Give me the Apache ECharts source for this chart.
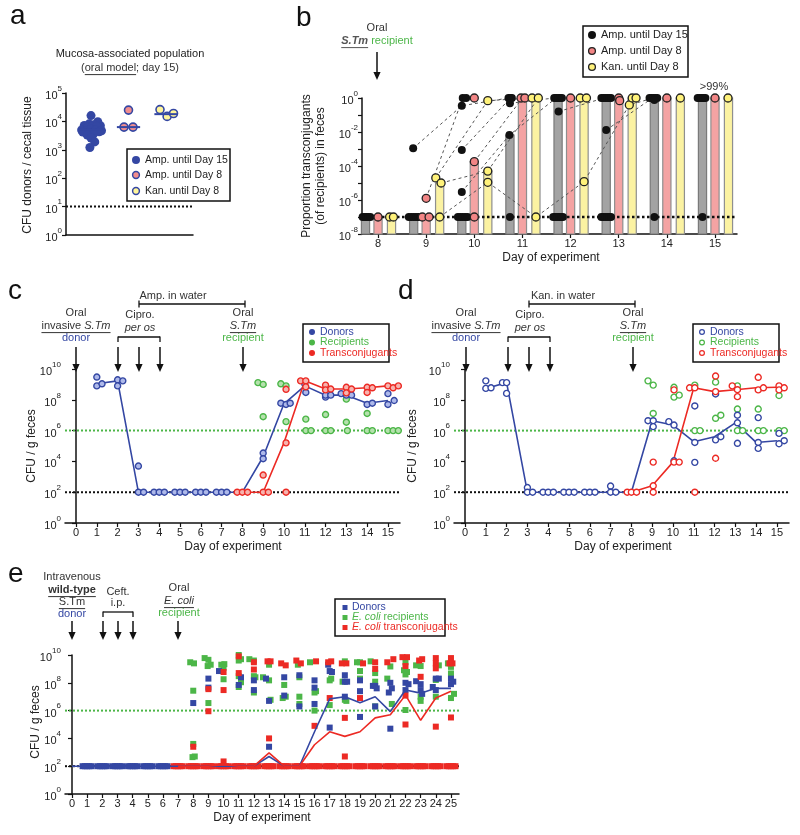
<!DOCTYPE html>
<html>
<head>
<meta charset="utf-8">
<script src="https://cdn.jsdelivr.net/npm/echarts@6.0.0/dist/echarts.min.js"></script>
<style>
html,body{margin:0;padding:0;background:#ffffff;}
#chart{width:800px;height:835px;}
</style>
</head>
<body>
<div id="chart"></div>
<script>
const FONT = '"Liberation Sans", Arial, Helvetica, sans-serif';

/* ======================= DATA ======================= */
// ---- Panel a : mucosa-associated donors (CFU / cecal tissue); x = group (1,2,3) incl. jitter
const aLegend = ['Amp. until Day 15', 'Amp. until Day 8', 'Kan. until Day 8'];
const aAmp15 = [[1.00,16000],[1.18,9800],[0.95,8200],[0.82,7200],[1.08,7600],[1.25,7000],[0.90,6000],[1.02,6300],[1.15,6600],[0.75,5000],[0.87,4800],[1.00,5300],[1.12,5000],[1.28,4700],[0.78,4200],[0.95,4000],[1.22,4300],[1.06,3500],[0.90,3300],[1.00,2600],[1.10,1900],[0.97,1200]];
const aAmp8 = [[2.00,25000],[1.88,6300],[2.12,6300]];
const aKan8 = [[2.84,26000],[3.03,15000],[3.20,19000]];
const aGroupPos = [1, 2, 3];
const aMedian = [5000, 6300, 18000];
const aDetection = 10;

// ---- Panel b : proportion transconjugants (of recipients)
const bDays = [8, 9, 10, 11, 12, 13, 14, 15];
const bMedAmp15 = [1e-7, 1e-7, 1e-7, 6.6e-3, 1, 1, 1, 1];
const bMedAmp8  = [1e-7, 1e-7, 1.8e-4, 1, 1, 1, 1, 1];
const bMedKan8  = [1e-7, 1e-5, 5e-5, 1, 1, 1, 1, 1];
const bAmp15 = [[7.68,1e-7],[7.72,1e-7],[7.76,1e-7],[7.80,1e-7],[7.84,1e-7],
  [8.64,1e-7],[8.69,1e-7],[8.74,1e-7],[8.79,1e-7],[8.84,1e-7],[8.89,1e-7],[8.73,1.1e-3],
  [9.76,1],[9.83,1],[9.74,0.35],[9.74,8.7e-4],[9.74,3e-6],[9.66,1e-7],[9.71,1e-7],[9.76,1e-7],[9.81,1e-7],[9.86,1e-7],
  [10.71,1],[10.75,1],[10.78,1],[10.74,0.49],[10.73,6.6e-3],[10.74,1e-7],
  [11.66,1],[11.70,1],[11.74,1],[11.78,1],[11.82,1],[11.75,0.16],[11.64,1e-7],[11.68,1e-7],[11.72,1e-7],[11.76,1e-7],[11.80,1e-7],[11.84,1e-7],
  [12.64,1],[12.68,1],[12.72,1],[12.76,1],[12.80,1],[12.84,1],[12.74,1.3e-2],[12.64,1e-7],[12.68,1e-7],[12.72,1e-7],[12.76,1e-7],[12.80,1e-7],[12.84,1e-7],
  [13.64,1],[13.68,1],[13.72,1],[13.76,1],[13.80,1],[13.74,0.76],[13.74,1e-7],
  [14.64,1],[14.68,1],[14.72,1],[14.76,1],[14.80,1],[14.74,1e-7]];
const bAmp8 = [[8,1e-7],[9,1.26e-6],[8.92,1e-7],[9.06,1e-7],[10,1],[10,1.8e-4],[10,1e-7],[10.97,1],[11.05,1],[12,1],[13,1],[13.02,0.7],[14,1],[15,1]];
const bKan8 = [[8.24,1e-7],[8.32,1e-7],[9.20,2e-5],[9.31,1e-5],[9.28,1e-7],[10.28,0.7],[10.28,5e-5],[10.28,1.1e-5],[11.20,1],[11.33,1],[11.28,1e-7],[12.20,1],[12.33,1],[12.28,1.2e-5],[13.22,0.39],[13.28,1],[13.36,1],[14.28,1],[15.27,1]];
const bTracks = [
  [[8.73,1.1e-3],[9.74,0.35],[10.71,1]],
  [[9.0,1.26e-6],[9.76,1]],
  [[9.20,2e-5],[10.28,0.7],[11.20,1]],
  [[9.31,1e-5],[10.28,5e-5],[11.33,1]],
  [[9.28,1e-7],[10.28,1.1e-5],[11.28,1e-7],[12.28,1.2e-5],[13.22,0.39],[13.72,1]],
  [[9.74,8.7e-4],[10.75,1]],
  [[9.74,3e-6],[10.73,6.6e-3],[11.70,1]],
  [[10.0,1.8e-4],[11.0,1]],
  [[10.74,0.49],[11.66,1]],
  [[11.75,0.16],[12.70,1]],
  [[12.74,1.3e-2],[13.70,1]]
];
const bDetection = 1e-7;

// ---- Panel c : Amp. in water (CFU / g feces)
const cDonors = [[1,3e9],[1,8e8],[1.25,1.1e9],[2,2e9],[2,8e8],[2.25,1.7e9],[3,5e3],[3,100],[3.25,100],[3.75,100],[4,100],[4.25,100],[4.75,100],[5,100],[5.25,100],[5.75,100],[6,100],[6.25,100],[6.75,100],[7,100],[7.25,100],
  [9,3.5e4],[9,1.5e4],[9.85,6e7],[10.1,5e7],[10.3,6e7],[11,1.1e9],[11.05,3e8],[12,1.5e8],[12,2e8],[12.25,2e8],[12.75,2.5e8],[13,2e8],[13.25,2e8],[14,5e7],[14.25,6e7],[15,2.5e8],[15,5e7],[15.3,9e7]];
const cRecipients = [[8.75,1.3e9],[9,1e9],[9,8e6],[9.85,1.1e9],[10.1,8e8],[10.1,3.8e6],[11.05,5.6e6],[11.05,1e6],[11.3,1e6],[12,1.1e7],[12,1e6],[12.25,1e6],[13,1.1e8],[13,3.5e6],[13.05,1e6],[14,1.3e7],[14,1e6],[14.25,1e6],[15,1e6],[15.25,1e6],[15.5,1e6]];
const cTrans = [[7.75,100],[8,100],[8.25,100],[9,1.3e3],[9,100],[9.25,100],[10.1,4.8e8],[10.1,1.6e5],[10.1,100],[10.8,1.7e9],[11.05,1.7e9],[11.05,7e8],[12,9e8],[12,4.4e8],[12.25,5e8],[13,6.5e8],[13,2.8e8],[13.25,5e8],[14,6.5e8],[14,3e8],[14.25,6e8],[15,8e8],[15.25,6e8],[15.5,8e8]];
const cDonorMed = [[1,1.1e9],[2,1.7e9],[3,100],[4,100],[5,100],[6,100],[7,100],[8,100],[9,2e4],[10,5.5e7],[11,8e8],[12,2e8],[13,2e8],[14,6e7],[15,9e7]];
const cTransMed = [[8,100],[9,100],[10,1.6e5],[11,1.7e9],[12,5e8],[13,5e8],[14,6e8],[15,8e8]];

// ---- Panel d : Kan. in water (CFU / g feces)
const dDonors = [[1,1.7e9],[1,5.5e8],[1.25,6e8],[1.8,1.3e9],[2,1.3e9],[2,2.6e8],[3,200],[3,100],[3.25,100],[3.75,100],[4,100],[4.25,100],[4.75,100],[5,100],[5.25,100],[5.75,100],[6,100],[6.25,100],[7,250],[7,100],[7.25,100],
  [8.8,4.4e6],[9.05,4.4e6],[9.05,1.8e6],[9.8,3.8e6],[10.05,2.3e6],[10.05,1.1e4],[11.05,4e7],[11.05,1.7e5],[11.05,8.7e3],[12.05,2.4e8],[12.05,2.5e5],[12.3,4e5],[13.1,1e7],[13.1,3.2e6],[13.1,1.5e5],[14.1,7e6],[14.1,1.7e5],[14.1,7e4],[15.1,6.6e5],[15.1,1.4e5],[15.35,2.2e5]];
const dRecipients = [[8.8,1.7e9],[9.05,9e8],[9.05,1.3e7],[10.05,6.5e8],[10.05,1.5e8],[10.3,2e8],[11.05,9e8],[11.05,1e6],[11.3,1e6],[12.05,1.4e9],[12.05,6.3e6],[12.3,1e7],[13.1,8e8],[13.1,2.5e7],[13.1,1e6],[13.35,1e6],[14.1,2.5e7],[14.1,1e6],[14.35,1e6],[15.1,1.9e8],[15.1,1e6],[15.35,1e6]];
const dTrans = [[7.8,100],[8,100],[8.25,100],[9.05,9e3],[9.05,260],[9.05,100],[10.05,4.4e8],[10.05,9e3],[10.3,9e3],[10.8,6e8],[11.05,6e8],[11.05,100],[12.05,3.5e9],[12.05,3.4e8],[12.05,1.6e4],[12.85,8e8],[13.1,4.5e8],[13.1,1.6e8],[14.1,2.9e9],[14.1,4.4e8],[14.35,6e8],[15.1,8e8],[15.1,4.4e8],[15.35,6e8]];
const dDonorMed = [[1,5.5e8],[2,1.3e9],[3,100],[4,100],[5,100],[6,100],[7,100],[8,100],[9,4.4e6],[10,2.3e6],[11,1.9e5],[12,4e5],[13,3.2e6],[14,1.7e5],[15,2.2e5]];
const dTransMed = [[8,100],[9,260],[10,9e3],[11,6e8],[12,3.4e8],[13,4.5e8],[14,6e8],[15,6.5e8]];

// ---- Panel e : intravenous model, E. coli recipient (CFU / g feces)
const eDonors = [[8,3.5e6],[9,2e8],[9,4.5e7],[9.7,7e8],[11,7e7],[11.15,2.5e8],[12,1.5e8],[12,3e7],[12.8,2e8],[13,5e6],[13,2.5e3],[14,2.5e8],[14,1.2e7],[15,3.5e8],[15,2e6],
  [16,1.5e8],[16,4.5e7],[16,3e6],[16.9,2e9],[17,7e8],[17.15,6e8],[17,6e4],[18,3.5e8],[18,1.2e8],[18.15,1.2e8],[18,1e7],[19,1.5e8],[19,2.5e7],[19,3.5e5],
  [20,6e7],[19.85,6e7],[20.1,4e7],[20,2e6],[21,1e8],[20.9,2e7],[21.1,4e7],[21,5e4],[22,1e8],[22.2,8e7],[22,3e7],[22.7,1.3e8],[23,8e7],[23,3e7],[23.1,1.6e7],
  [23.8,5e7],[24,2e8],[24.2,2e8],[24,3e7],[25,2e8],[25.15,1.2e8],[25,8e7]];
const eRecipients = [[7.8,3e9],[8.05,2.5e9],[8,2.7e7],[8,4e3],[7.95,4.5e2],[8.1,5e2],[8.75,6e9],[9,4.5e9],[8.95,1.6e9],[9.15,2e9],[9,3.5e6],
  [9.85,2e9],[10.05,2.2e9],[10,1.2e9],[10,1.8e8],[11,1e10],[11,4e9],[11.15,5e9],[11,3e8],[11,5e7],[11.15,1.1e8],[11.7,5e9],[12,4e9],[12.1,2.5e8],[12,3e8],[12,2e7],
  [12.6,2.5e8],[13,2e9],[13,1.5e8],[13.1,6e6],[14,7e7],[13.9,8e6],[14.1,1e7],[14.9,2e9],[15,2.5e8],[15,1e7],[15,3e6],[15.7,3e9],[16,2e7],[16.1,2.5e7],[16,1e6],
  [17,1.5e8],[17.1,2e8],[17,2.5e6],[18,3.5e9],[17.85,1.2e8],[18,6e6],[18.1,5e6],[18.8,3e9],[19,3e9],[19,7e8],[19,2e8],[19.7,3.5e9],[20,5e8],[20,1.2e8],[20,2e6],
  [20.8,2e8],[21,1.5e9],[21.1,3e6],[22,3e9],[21.9,8e8],[22.1,6e8],[22,4e8],[22,1.1e6],[22.7,1.8e9],[23,1.6e9],[23,1e7],[23,5e6],[24.2,1.8e9],[24,1.6e8],[24,1e7],
  [24.8,2.5e9],[25,1.4e9],[25,4.7e8],[25.2,1.6e7],[25,8e6]];
const eTrans = [[8,2.5e3],[9,3.5e7],[9,9e5],[10,6e8],[10,3e7],[10,220],[11,8e9],[11,5e8],[12,3e9],[12,9e8],[12.9,3.5e9],[13.1,3.5e9],[13,1e4],[13.8,2.5e9],[14.1,1.8e9],
  [14.8,4e9],[15.1,2.5e9],[16.1,3.5e9],[16,8e4],[16.9,3e9],[17.1,3.5e9],[17,8e6],[17.8,2.5e9],[18.1,2.5e9],[18,3e5],[18,500],[19.2,2.5e9],[19,8e6],[20,3e9],[20,1e9],
  [20.8,3e9],[21.2,5e9],[21.8,7e9],[22.1,7e9],[22,1.6e9],[22,1.2e7],[22,1e5],[22.9,4e9],[23.1,5e9],[23,2.7e8],[24,6e9],[24,2.5e9],[24,1.1e9],[24,7e4],
  [25,6e9],[25.1,2.5e9],[24.9,2.5e9],[25,3.2e5]];
const eDonorBaseDays = [1, 2, 3, 4, 5, 6];
const eTransBaseDays = [7, 8, 9, 10, 11, 12, 13, 14, 15, 16, 17, 18, 19, 20, 21, 22, 23, 24, 25];
const eBaseMice = 5;          // mice at the detection limit per day
const eBaseValue = 100;
const eDonorMedDays = [0,1,2,3,4,5,6,7,8,9,10,11,12,13,14,15,16,17,18,19,20,21,22,23,24,25];
const eDonorMed = [100,100,100,100,100,100,100,100,100,100,100,100,100,500,100,100,3e4,7e6,1e7,3.7e6,1e7,8.5e5,3e7,1.8e7,4e7,4e7];
const eTransMedDays = [7,8,9,10,11,12,13,14,15,16,17,18,19,20,21,22,23,24,25];
const eTransMed = [100,100,100,130,100,100,900,100,100,3.5e3,3e4,1.4e4,3e4,3e5,5e5,1.3e7,2e5,8e6,2.5e7];
const recipLimit = 1e6;
const feceLimit = 100;

/* ======================= STYLE ======================= */
const BLUE = '#3447a3', GREEN = '#4cb648', RED = '#ec2a24', TXT = '#333', AX = '#111';
const xr = { a:[0.333,3.72], b:[7.667,15.457], c:[-0.53,15.58], e:[-0.46,25.53] };
const lg = pts => pts.map(p => [p[0], Math.log10(p[1])]);
const range = (a,b) => { const r=[]; for (let i=a;i<=b;i++) r.push(i); return r; };
const rich = {
  b:{fontSize:11, fontFamily:FONT, color:'#222', lineHeight:17, verticalAlign:'bottom'},
  s:{fontSize:8, fontFamily:FONT, color:'#222', lineHeight:8, verticalAlign:'top'}
};
const sup = v => '{b|10}{s|' + v + '}';

function yAx(gi, min, max, interval, fmt) {
  return {gridIndex:gi, type:'value', min, max, interval,
    axisLine:{show:true, lineStyle:{color:AX, width:1.5}},
    axisTick:{show:true, length:4, lineStyle:{color:AX, width:1.2}},
    axisLabel:{formatter:fmt || sup, rich, margin:4},
    splitLine:{show:false}};
}
function xAx(gi, r, ticks) {
  const o = {gridIndex:gi, type:'value', min:r[0], max:r[1],
    axisLine:{show:true, onZero:false, lineStyle:{color:AX, width:1.5}},
    splitLine:{show:false}};
  if (ticks) {
    o.axisTick = {show:true, length:4, customValues:ticks, lineStyle:{color:AX, width:1.2}};
    o.axisLabel = {show:true, customValues:ticks, fontSize:11, fontFamily:FONT, color:'#222', margin:4};
  } else {
    o.axisTick = {show:false}; o.axisLabel = {show:false};
  }
  return o;
}

const series = [];
function scat(gi, pts, o) {
  series.push({type:'scatter', xAxisIndex:gi, yAxisIndex:gi, data:lg(pts), symbol:o.symbol||'circle',
    symbolSize:o.size, itemStyle:{color:o.fill, borderColor:o.stroke||o.fill, borderWidth:o.bw||0, opacity:1},
    z:o.z||5, silent:true, animation:false});
}
function ln(gi, pts, color, width, type, z) {
  series.push({type:'line', xAxisIndex:gi, yAxisIndex:gi, data:lg(pts), symbol:'none', showSymbol:false,
    lineStyle:{color, width, type}, z:z||3, silent:true, animation:false});
}

// ---- panel a series
ln(0, [[xr.a[0], aDetection],[xr.a[1], aDetection]], '#111', 2, 'dotted', 2);
scat(0, aAmp15, {size:9, fill:BLUE});
scat(0, aAmp8, {size:8, fill:'#f28d8d', stroke:BLUE, bw:1.6});
scat(0, aKan8, {size:8, fill:'#fff59a', stroke:BLUE, bw:1.6});
aMedian.forEach((m, i) => ln(0, [[aGroupPos[i]-0.31, m],[aGroupPos[i]+0.31, m]], BLUE, 2, 'solid', 6));

// ---- panel b series
const barOff = [-0.26, 0, 0.28];
const barFill = ['#a3a3a3', '#f4a3a3', '#fbf2a2'];
const barStroke = ['#7a7a7a', '#8f8f8f', '#8f8f8f'];
const barRows = [];
[bMedAmp15, bMedAmp8, bMedKan8].forEach((arr, k) => arr.forEach((v, i) => barRows.push([bDays[i] + barOff[k], Math.log10(v), k])));
series.push({type:'custom', xAxisIndex:1, yAxisIndex:1, data:barRows, z:1, silent:true, animation:false,
  encode:{x:0, y:1},
  renderItem:(params, api) => {
    const x = api.value(0), v = api.value(1), k = api.value(2);
    const top = api.coord([x, v]); const bot = api.coord([x, -8]);
    const w = api.size([0.17, 0])[0];
    return {type:'rect', shape:{x:top[0]-w/2, y:top[1], width:w, height:bot[1]-top[1]},
      style:{fill:barFill[k], stroke:barStroke[k], lineWidth:1.2}};
  }});
ln(1, [[xr.b[0], bDetection],[xr.b[1], bDetection]], '#111', 2.5, 'dotted', 2);
bTracks.forEach(t => ln(1, t, '#555', 1, [3,3], 3));
scat(1, bAmp15, {size:8, fill:'#111', z:6});
scat(1, bAmp8, {size:8, fill:'#f28585', stroke:'#222', bw:1.3, z:7});
scat(1, bKan8, {size:8, fill:'#fff27a', stroke:'#222', bw:1.3, z:7});

// ---- panels c / d series
function cd(gi, don, rec, tr, dMed, tMed, open) {
  ln(gi, [[xr.c[0], recipLimit],[xr.c[1], recipLimit]], GREEN, 2, 'dotted', 2);
  ln(gi, [[xr.c[0], feceLimit],[xr.c[1], feceLimit]], '#111', 2, 'dotted', 2);
  ln(gi, dMed, BLUE, 1.6, 'solid', 3);
  ln(gi, tMed, RED, 1.6, 'solid', 3);
  const f = open ? ['#fff','#fff','#fff'] : ['#aeb9ea','#b5e1ad','#f7b3ae'];
  scat(gi, rec, {size:6, fill:f[1], stroke:GREEN, bw:1.4, z:5});
  scat(gi, don, {size:6, fill:f[0], stroke:BLUE, bw:1.4, z:6});
  scat(gi, tr, {size:6, fill:f[2], stroke:RED, bw:1.4, z:7});
}
cd(2, cDonors, cRecipients, cTrans, cDonorMed, cTransMed, false);
cd(3, dDonors, dRecipients, dTrans, dDonorMed, dTransMed, true);

// ---- panel e series
const spread = [-0.3, -0.15, 0, 0.15, 0.3].slice(0, eBaseMice);
const eDonBase = [], eTrBase = [];
eDonorBaseDays.forEach(d => spread.forEach(o => eDonBase.push([d + o, eBaseValue])));
eTransBaseDays.forEach(d => spread.forEach(o => eTrBase.push([d + o, eBaseValue])));
ln(4, [[xr.e[0], recipLimit],[xr.e[1], recipLimit]], GREEN, 2, 'dotted', 2);
ln(4, [[xr.e[0], feceLimit],[xr.e[1], feceLimit]], '#111', 2, 'dotted', 2);
scat(4, eRecipients, {symbol:'rect', size:6, fill:GREEN, z:5});
scat(4, eDonors.concat(eDonBase), {symbol:'rect', size:6, fill:BLUE, z:6});
scat(4, eTrans.concat(eTrBase), {symbol:'rect', size:6, fill:RED, z:7});
ln(4, eDonorMedDays.map((d, i) => [d, eDonorMed[i]]), BLUE, 1.6, 'solid', 8);
ln(4, eTransMedDays.map((d, i) => [d, eTransMed[i]]), RED, 1.6, 'solid', 8);

/* ======================= ANNOTATIONS ======================= */
const G = [];
const mctx = document.createElement('canvas').getContext('2d');
function measure(t, size, bold, ital) {
  mctx.font = (ital ? 'italic ' : '') + (bold ? 'bold ' : '') + size + 'px ' + FONT;
  return mctx.measureText(t).width;
}
function T(x, y, text, st, el) {
  G.push(Object.assign({type:'text', x, y, z:100, silent:true,
    style:Object.assign({text, fill:TXT, fontSize:11, fontFamily:FONT, align:'center', verticalAlign:'middle'}, st || {})}, el || {}));
}
function LN(x1, y1, x2, y2, w, c) {
  G.push({type:'line', z:100, silent:true, shape:{x1, y1, x2, y2}, style:{stroke:c || '#111', lineWidth:w || 1.3}});
}
function RL(x, y, parts, size, align) {
  size = size || 11;
  const ws = parts.map(p => measure(p.t, size, p.b, p.i));
  const tot = ws.reduce((a, b) => a + b, 0);
  let cx = align === 'left' ? x : x - tot / 2;
  parts.forEach((p, k) => {
    T(cx, y, p.t, {fill:p.c || TXT, fontSize:size, fontWeight:p.b ? 'bold' : 'normal', fontStyle:p.i ? 'italic' : 'normal', align:'left'});
    if (p.u) LN(cx, y + size * 0.6, cx + ws[k], y + size * 0.6, 1, p.c || TXT);
    cx += ws[k];
  });
}
function ARROW(x, y1, y2) {
  LN(x, y1, x, y2 - 6, 1.5);
  G.push({type:'polygon', z:100, silent:true, shape:{points:[[x - 3.6, y2 - 8], [x + 3.6, y2 - 8], [x, y2]]}, style:{fill:'#111'}});
}
function BOX(x, y, w, h) {
  G.push({type:'rect', z:99, silent:true, shape:{x, y, width:w, height:h}, style:{fill:'#fff', stroke:'#111', lineWidth:1.5}});
}
function DOT(cx, cy, r, fill, stroke, lw) {
  G.push({type:'circle', z:101, silent:true, shape:{cx, cy, r}, style:{fill, stroke:stroke || fill, lineWidth:lw || 0}});
}
function SQ(cx, cy, s, fill) {
  G.push({type:'rect', z:101, silent:true, shape:{x:cx - s / 2, y:cy - s / 2, width:s, height:s}, style:{fill}});
}
const ROT = Math.PI / 2;

// panel a
T(10, 16, 'a', {fontSize:28, align:'left', fill:'#111'});
T(130, 54, 'Mucosa-associated population', {fill:'#222'});
RL(130, 68, [{t:'('}, {t:'oral model', u:true}, {t:'; day 15)'}], 11);
T(28, 165, 'CFU donors / cecal tissue', {fontSize:12, fill:'#222'}, {rotation:ROT});
BOX(127, 149, 103, 52);
DOT(136, 160, 4, BLUE); T(145, 160, aLegend[0], {align:'left', fontSize:10.5, fill:'#222'});
DOT(136, 175, 3.4, '#f28d8d', BLUE, 1.5); T(145, 175, aLegend[1], {align:'left', fontSize:10.5, fill:'#222'});
DOT(136, 191, 3.4, '#fff59a', BLUE, 1.5); T(145, 191, aLegend[2], {align:'left', fontSize:10.5, fill:'#222'});

// panel b
T(296, 18, 'b', {fontSize:28, align:'left', fill:'#111'});
T(377, 28, 'Oral');
RL(377, 41, [{t:'S.Tm', u:true, i:true, b:true, c:'#555'}, {t:' recipient', c:GREEN}], 11);
ARROW(377, 52, 80);
T(314, 166, 'Proportion transconjugants\n(of recipients) in feces', {fontSize:12, fill:'#222', lineHeight:14}, {rotation:ROT});
T(551, 258, 'Day of experiment', {fontSize:12, fill:'#222'});
BOX(583, 26, 105, 51);
DOT(592, 35, 4, '#111'); T(601, 35, aLegend[0], {align:'left', fontSize:11, fill:'#222'});
DOT(592, 51, 3.4, '#f28585', '#222', 1.3); T(601, 51, aLegend[1], {align:'left', fontSize:11, fill:'#222'});
DOT(592, 67, 3.4, '#fff27a', '#222', 1.3); T(601, 67, aLegend[2], {align:'left', fontSize:11, fill:'#222'});
T(714, 87, '>99%', {fontSize:11});

// panels c and d
function annCD(ox, letter, drug, open) {
  T(8 + ox, 291, letter, {fontSize:28, align:'left', fill:'#111'});
  T(173 + ox, 296, drug + ' in water');
  LN(139 + ox, 304, 245 + ox, 304); LN(139 + ox, 300.5, 139 + ox, 307.5); LN(245 + ox, 300.5, 245 + ox, 307.5);
  T(76 + ox, 313, 'Oral');
  RL(76 + ox, 326, [{t:'invasive ', u:true}, {t:'S.Tm', u:true, i:true}], 11);
  T(76 + ox, 338, 'donor', {fill:BLUE});
  T(140 + ox, 315, 'Cipro.');
  T(140 + ox, 328, 'per os', {fontStyle:'italic'});
  LN(118 + ox, 337, 160 + ox, 337); LN(118 + ox, 336.4, 118 + ox, 342); LN(160 + ox, 336.4, 160 + ox, 342);
  [76, 118, 139, 160, 243].forEach(x => ARROW(x + ox, 347, 372));
  T(243 + ox, 313, 'Oral');
  RL(243 + ox, 326, [{t:'S.Tm', u:true, i:true}], 11);
  T(243 + ox, 338, 'recipient', {fill:GREEN});
  BOX(303 + ox, 324, 86, 38);
  const cols = [BLUE, GREEN, RED], fl = open ? ['#fff','#fff','#fff'] : cols;
  ['Donors', 'Recipients', 'Transconjugants'].forEach((s, i) => {
    DOT(312 + ox, 332 + i * 10.5, 2.4, fl[i], cols[i], 1.2);
    T(320 + ox, 332 + i * 10.5, s, {align:'left', fontSize:10.5, fill:cols[i]});
  });
  T(233 + ox, 547, 'Day of experiment', {fontSize:12, fill:'#222'});
}
annCD(0, 'c', 'Amp.', false);
annCD(390, 'd', 'Kan.', true);
T(32, 446, 'CFU / g feces', {fontSize:12, fill:'#222'}, {rotation:ROT});
T(413, 446, 'CFU / g feces', {fontSize:12, fill:'#222'}, {rotation:ROT});

// panel e
T(8, 574, 'e', {fontSize:28, align:'left', fill:'#111'});
T(72, 577, 'Intravenous');
RL(72, 590, [{t:'wild-type', u:true, b:true}], 11);
RL(72, 602, [{t:'S.Tm', u:true}], 11);
T(72, 614, 'donor', {fill:BLUE});
T(118, 592, 'Ceft.');
T(118, 603, 'i.p.');
LN(103, 612, 133, 612); LN(103, 611.4, 103, 617); LN(133, 611.4, 133, 617);
[72, 103, 118, 133, 178].forEach(x => ARROW(x, 621, 640));
T(179, 588, 'Oral');
RL(179, 601, [{t:'E. coli', u:true, i:true}], 11);
T(179, 613, 'recipient', {fill:GREEN});
BOX(335, 599, 110, 37);
SQ(345, 607.5, 5, BLUE); RL(352, 607.5, [{t:'Donors', c:BLUE}], 10.5, 'left');
SQ(345, 617.5, 5, GREEN); RL(352, 617.5, [{t:'E. coli', i:true, c:GREEN}, {t:' recipients', c:GREEN}], 10.5, 'left');
SQ(345, 627.5, 5, RED); RL(352, 627.5, [{t:'E. coli', i:true, c:RED}, {t:' transconjugants', c:RED}], 10.5, 'left');
T(36, 722, 'CFU / g feces', {fontSize:12, fill:'#222'}, {rotation:ROT});
T(262, 818, 'Day of experiment', {fontSize:12, fill:'#222'});

/* ======================= OPTION ======================= */
const option = {
  backgroundColor:'#ffffff',
  animation:false,
  textStyle:{fontFamily:FONT},
  grid:[
    {left:66, top:93, width:127, height:142},
    {left:362, top:98, width:375, height:136},
    {left:65, top:369, width:335, height:154},
    {left:454, top:369, width:335, height:154},
    {left:65, top:655, width:394, height:139}
  ],
  xAxis:[
    xAx(0, xr.a, null),
    xAx(1, xr.b, bDays),
    xAx(2, xr.c, range(0, 15)),
    xAx(3, xr.c, range(0, 15)),
    xAx(4, xr.e, range(0, 25))
  ],
  yAxis:[
    yAx(0, 0, 5, 1),
    yAx(1, -8, 0, 1, v => (Math.round(v) % 2 === 0 ? sup(Math.round(v)) : '')),
    yAx(2, 0, 10, 2),
    yAx(3, 0, 10, 2),
    yAx(4, 0, 10, 2)
  ],
  series,
  graphic:{elements:G}
};
const chart = echarts.init(document.getElementById('chart'), null, {renderer:'canvas'});
chart.setOption(option);
</script>
</body>
</html>
